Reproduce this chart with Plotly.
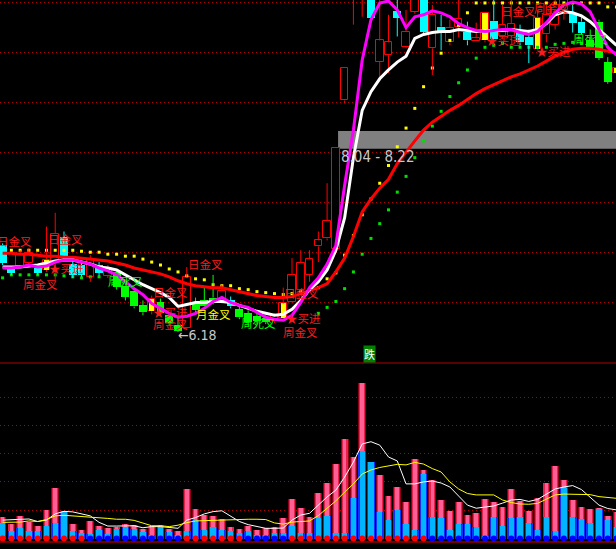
import plotly.graph_objects as go

# ---------------- data ----------------
bar_index = list(range(71))

open_price = [7.06, 6.83, 6.85, 6.88, 6.83, 6.91, 6.89, 7.14, 6.87, 6.86,
              6.74, 6.86, 6.75, 6.79, 6.65, 6.60, 6.45, 6.52, 6.48, 6.35,
              6.25, 6.22, 6.48, 6.50, 6.53, 6.50, 6.50, 6.41, 6.37, 6.34,
              6.32, 6.29, 6.32, 6.48, 6.61, 6.76, 7.05, 7.13, 7.02, 8.53,
              9.60, 9.62, 9.80, 8.92, 8.99, 9.44, 9.07, 9.43, 9.70, 9.06,
              9.28, 9.12, 9.28, 9.23, 9.13, 9.14, 9.34, 9.18, 9.18, 9.23,
              9.17, 9.05, 9.20, 9.30, 9.45, 9.42, 9.33, 9.14, 9.33, 8.92,
              8.86]
high_price = [7.08, 6.85, 7.01, 7.03, 6.86, 7.25, 7.39, 7.20, 6.91, 6.89,
              6.96, 6.89, 6.86, 6.81, 6.68, 6.63, 6.50, 6.55, 6.52, 6.38,
              6.32, 6.84, 6.53, 6.63, 6.76, 6.66, 6.54, 6.45, 6.40, 6.37,
              6.35, 6.37, 6.63, 6.93, 7.01, 7.01, 7.20, 7.69, 8.05, 8.86,
              9.74, 9.96, 9.85, 9.60, 9.40, 9.60, 9.45, 9.80, 9.75, 9.50,
              9.40, 9.35, 9.60, 9.33, 9.32, 9.42, 9.58, 9.50, 9.58, 9.30,
              9.25, 9.45, 9.50, 9.60, 9.65, 9.50, 9.40, 9.25, 9.35, 8.97,
              8.89]
low_price = [6.86, 6.76, 6.83, 6.85, 6.76, 6.79, 6.71, 6.91, 6.73, 6.74,
             6.69, 6.75, 6.73, 6.61, 6.50, 6.42, 6.35, 6.36, 6.34, 6.24,
             6.18, 6.20, 6.37, 6.42, 6.46, 6.47, 6.42, 6.31, 6.25, 6.26,
             6.26, 6.27, 6.30, 6.47, 6.58, 6.69, 6.89, 7.11, 6.99, 8.50,
             9.30, 9.38, 9.35, 8.74, 8.81, 9.18, 9.06, 9.41, 9.21, 8.79,
             9.04, 9.09, 9.17, 9.09, 9.13, 9.12, 9.14, 9.16, 9.14, 9.09,
             8.91, 9.04, 9.12, 9.25, 9.35, 9.22, 9.20, 9.04, 8.94, 8.70,
             8.79]
close_price = [6.88, 6.78, 6.97, 6.98, 6.78, 6.81, 7.18, 6.94, 6.76, 6.76,
               6.91, 6.78, 6.83, 6.64, 6.54, 6.44, 6.38, 6.39, 6.37, 6.27,
               6.19, 6.74, 6.40, 6.44, 6.48, 6.60, 6.44, 6.33, 6.28, 6.29,
               6.28, 6.34, 6.47, 6.76, 6.88, 6.92, 7.11, 7.31, 8.05, 8.86,
               9.74, 9.90, 9.37, 9.14, 9.12, 9.37, 9.23, 9.75, 9.23, 9.40,
               9.22, 9.27, 9.36, 9.14, 9.16, 9.42, 9.15, 9.30, 9.31, 9.12,
               9.09, 9.37, 9.40, 9.50, 9.60, 9.32, 9.22, 9.07, 8.96, 8.72,
               8.81]
# candle state: r = rise (hollow red), c = fall (cyan), g = weak (green), y = signal (yellow)
candle_state = list("ccrrcyrccc" "rcrggggygg" "grgggrcggg" "gryrrrrrrr"
                    "rrcrrcrrcr" "crrcrycrrc" "cyrrrccggg" "y")

ma_red = [6.98, 6.98, 6.97, 6.97, 6.96, 6.95, 6.95, 6.94, 6.94, 6.93,
          6.92, 6.91, 6.90, 6.88, 6.86, 6.83, 6.81, 6.79, 6.77, 6.74,
          6.70, 6.67, 6.65, 6.64, 6.63, 6.63, 6.61, 6.59, 6.57, 6.55,
          6.54, 6.53, 6.53, 6.54, 6.57, 6.60, 6.63, 6.67, 6.79, 6.93,
          7.15, 7.40, 7.53, 7.64, 7.73, 7.89, 8.01, 8.12, 8.23, 8.31,
          8.37, 8.43, 8.48, 8.54, 8.60, 8.65, 8.69, 8.73, 8.77, 8.80,
          8.84, 8.88, 8.93, 8.98, 9.02, 9.05, 9.06, 9.06, 9.05, 9.03,
          9.01]
ma_white = [6.84, 6.84, 6.84, 6.85, 6.86, 6.88, 6.90, 6.91, 6.91, 6.89,
            6.87, 6.84, 6.83, 6.81, 6.76, 6.71, 6.66, 6.62, 6.58, 6.53,
            6.44, 6.46, 6.48, 6.48, 6.49, 6.49, 6.48, 6.45, 6.42, 6.39,
            6.37, 6.35, 6.36, 6.41, 6.50, 6.61, 6.69, 6.81, 7.01, 7.34,
            7.95, 8.43, 8.62, 8.75, 8.84, 8.92, 8.98, 9.16, 9.20, 9.22,
            9.23, 9.23, 9.25, 9.24, 9.23, 9.24, 9.24, 9.24, 9.25, 9.24,
            9.23, 9.25, 9.31, 9.40, 9.43, 9.42, 9.39, 9.33, 9.25, 9.17,
            9.09]
ma_magenta = [6.83, 6.83, 6.84, 6.86, 6.84, 6.85, 6.89, 6.91, 6.91, 6.89,
              6.87, 6.83, 6.80, 6.76, 6.69, 6.62, 6.56, 6.47, 6.42, 6.37,
              6.33, 6.34, 6.37, 6.42, 6.49, 6.53, 6.48, 6.45, 6.43, 6.38,
              6.33, 6.31, 6.30, 6.35, 6.48, 6.63, 6.73, 6.87, 7.06, 7.67,
              8.23, 8.94, 9.35, 9.52, 9.54, 9.45, 9.27, 9.38, 9.40, 9.44,
              9.42, 9.38, 9.31, 9.27, 9.24, 9.23, 9.24, 9.25, 9.25, 9.22,
              9.20, 9.23, 9.32, 9.42, 9.50, 9.53, 9.51, 9.43, 9.25, 9.07,
              8.99]
dots_yellow = [None, 7.01, 7.01, 7.01, 7.01, 7.01, 7.01, 7.01, 7.01, 7.00,
               6.99, 6.99, 6.97, 6.97, 6.95, 6.95, 6.92, 6.89, 6.86, 6.82,
               6.79, 6.75, 6.72, 6.71, 6.66, 6.65, 6.65, 6.62, 6.61, 6.59,
               6.58, 6.57, 6.56, 6.57, 6.59, 6.61, 6.63, 6.72, 6.78, 6.96,
               7.16, 7.37, 7.53, 7.69, 7.87, 8.06, 8.25, 8.45, 8.67, 8.86,
               9.01, 9.14, 9.29, 9.42, 9.52, 9.52, 9.52, 9.52, 9.52, 9.52,
               9.52, 9.52, 9.52, 9.52, 9.52, 9.52, 9.52, 9.52, 9.52, 9.48,
               9.48]
dots_green = [6.73, 6.76, 6.76, 6.76, 6.76, 6.76, 6.76, 6.75, 6.74, 6.73,
              6.74, 6.74, None, None, None, None, None, None, None, None,
              None, None, None, None, None, None, None, None, None, None,
              None, None, None, None, None, None, 6.37, 6.43, 6.49, 6.62,
              6.79, 6.97, 7.13, 7.28, 7.42, 7.60, 7.76, 7.95, 8.12, 8.27,
              8.42, 8.57, 8.71, 8.84, 8.96, 9.07, 9.09, 9.11, 9.07, 9.07,
              9.07, 9.07, 9.07, 9.10, 9.11, 9.12, 9.11, None, None, None,
              None]

vol_total = [0.77, 0.51, 0.80, 0.59, 0.45, 1.01, 1.78, 0.98, 0.51, 0.30,
             0.62, 0.44, 0.38, 0.42, 0.51, 0.48, 0.35, 0.44, 0.48, 0.34,
             0.27, 1.75, 1.04, 0.83, 0.80, 0.68, 0.41, 0.34, 0.44, 0.30,
             0.36, 0.42, 0.72, 1.40, 1.09, 0.77, 1.60, 1.95, 2.63, 3.51,
             2.87, 5.48, 2.70, 2.24, 1.50, 1.82, 1.29, 2.81, 2.42, 2.07,
             1.36, 0.97, 1.29, 0.83, 0.91, 1.40, 1.29, 1.12, 1.75, 1.33,
             0.98, 1.44, 1.97, 2.56, 2.07, 1.36, 1.11, 1.04, 1.08, 0.80,
             0.95]
vol_main = [0.56, 0.27, 0.38, 0.27, 0.27, 0.45, 0.55, 0.95, 0.27, 0.19,
            0.17, 0.30, 0.16, 0.34, 0.42, 0.33, 0.23, 0.11, 0.42, 0.23,
            0.12, 0.25, 0.65, 0.30, 0.40, 0.30, 0.25, 0.20, 0.25, 0.12,
            0.11, 0.20, 0.18, 0.45, 0.18, 0.20, 0.71, 0.81, 0.18, 0.18,
            1.44, 3.10, 2.70, 0.95, 0.65, 1.02, 0.52, 0.30, 2.28, 0.76,
            0.73, 0.30, 0.52, 0.52, 0.41, 0.10, 0.76, 0.45, 0.73, 0.76,
            0.55, 0.31, 0.76, 0.27, 1.80, 0.76, 0.68, 0.55, 1.04, 0.65,
            0.41]
vol_ma_white = [0.65, 0.67, 0.68, 0.69, 0.60, 0.65, 0.87, 0.96, 0.94, 0.88,
                0.80, 0.57, 0.44, 0.44, 0.44, 0.45, 0.38, 0.42, 0.42, 0.40,
                0.36, 0.65, 0.74, 0.87, 0.95, 0.98, 0.80, 0.60, 0.49, 0.42,
                0.36, 0.36, 0.37, 0.65, 0.83, 0.89, 1.18, 1.47, 1.71, 2.17,
                2.70, 3.34, 3.42, 3.30, 2.88, 2.74, 1.93, 1.93, 2.00, 2.03,
                1.96, 1.82, 1.50, 1.18, 1.07, 1.10, 1.15, 1.25, 1.36, 1.38,
                1.31, 1.38, 1.57, 1.75, 1.82, 1.87, 1.73, 1.45, 1.18, 1.06,
                1.01]
vol_ma_yellow = [0.57, 0.57, 0.58, 0.62, 0.60, 0.67, 0.80, 0.82, 0.80, 0.77,
                 0.76, 0.75, 0.71, 0.68, 0.68, 0.64, 0.54, 0.45, 0.45, 0.42,
                 0.47, 0.56, 0.62, 0.63, 0.65, 0.67, 0.68, 0.68, 0.68, 0.68,
                 0.67, 0.55, 0.51, 0.58, 0.59, 0.62, 0.81, 1.06, 1.33, 1.64,
                 1.93, 2.28, 2.42, 2.51, 2.56, 2.62, 2.60, 2.69, 2.63, 2.47,
                 2.35, 2.00, 1.75, 1.59, 1.54, 1.54, 1.54, 1.36, 1.27, 1.22,
                 1.21, 1.24, 1.40, 1.54, 1.57, 1.57, 1.57, 1.55, 1.48, 1.45,
                 1.42]
# 1 = red (rising phase) flag, 0 = blue flag
trend_flag = [1] * 10 + [0] * 11 + [1] * 7 + [0] * 5 + [1] * 16 + [0] * 22

low_mark_price = 6.18
band_low, band_high = 8.04, 8.22

# ---------------- layout constants ----------------
X_RANGE = [-0.2965, 69.94]
PRICE_RANGE = [5.8757, 9.55]
VOL_RANGE = [-0.1237, 6.2014]
MAIN_DOMAIN = [1 - 362 / 549, 1.0]
VOL_DOMAIN = [1 - 542 / 549, 1 - 363 / 549]
GRID = "#b00000"
RED = "#ff1a1a"
CJK = "Noto Sans CJK SC"

price_span = PRICE_RANGE[1] - PRICE_RANGE[0]
main_grid = [PRICE_RANGE[1] - price_span * (2 + 50 * k) / 362 for k in range(7)]

fig = go.Figure()

# ---- dots ----
fig.add_trace(go.Scatter(x=bar_index, y=dots_yellow, mode="markers",
                         marker=dict(symbol="square", size=3, color="#ffff00"),
                         xaxis="x", yaxis="y", hoverinfo="skip"))
fig.add_trace(go.Scatter(x=bar_index, y=dots_green, mode="markers",
                         marker=dict(symbol="square", size=3, color="#00e000"),
                         xaxis="x", yaxis="y", hoverinfo="skip"))

# ---- candles ----
wick_color = {"r": "#ff0000", "c": "#00ffff", "g": "#00ff00", "y": "#ff0000"}
for st, col in wick_color.items():
    xs, ys = [], []
    for i in bar_index:
        if candle_state[i] != st:
            continue
        top = max(open_price[i], close_price[i])
        bot = min(open_price[i], close_price[i])
        xs += [i, i, None, i, i, None]
        ys += [high_price[i], top, None, bot, low_price[i], None]
    fig.add_trace(go.Scatter(x=xs, y=ys, mode="lines", line=dict(color=col, width=1),
                             xaxis="x", yaxis="y", hoverinfo="skip"))


def bodies(states, width, fill, edge, edge_w):
    xs = [i for i in bar_index if candle_state[i] in states]
    base = [min(open_price[i], close_price[i]) for i in xs]
    h = [max(abs(close_price[i] - open_price[i]), 0.01) for i in xs]
    return go.Bar(x=xs, y=h, base=base, width=width,
                  marker=dict(color=fill, line=dict(color=edge, width=edge_w)),
                  xaxis="x", yaxis="y", hoverinfo="skip")


fig.add_trace(bodies("ry", 0.86, "#000000", "#ff0000", 1))
fig.add_trace(bodies("c", 0.9, "#00ffff", "#00ffff", 0))
fig.add_trace(bodies("g", 0.9, "#00ff00", "#00ff00", 0))
fig.add_trace(bodies("y", 0.6, "#ffff00", "#ffff00", 0))

# ---- moving averages ----
fig.add_trace(go.Scatter(x=bar_index, y=ma_red, mode="lines", line=dict(color="#ff0000", width=3),
                         xaxis="x", yaxis="y", hoverinfo="skip"))
fig.add_trace(go.Scatter(x=bar_index, y=ma_white, mode="lines", line=dict(color="#ffffff", width=3),
                         xaxis="x", yaxis="y", hoverinfo="skip"))
fig.add_trace(go.Scatter(x=bar_index, y=ma_magenta, mode="lines", line=dict(color="#ff00ff", width=3),
                         xaxis="x", yaxis="y", hoverinfo="skip"))

# ---- volume panel ----
for w, col in [(0.88, "#8c0014"), (0.66, "#e8204c"), (0.42, "#ff5f95")]:
    fig.add_trace(go.Bar(x=bar_index, y=vol_total, width=w, marker=dict(color=col, line=dict(width=0)),
                         xaxis="x2", yaxis="y2", hoverinfo="skip"))
for w, col in [(0.88, "#1030ff"), (0.6, "#00b4ff")]:
    fig.add_trace(go.Bar(x=bar_index, y=vol_main, width=w, marker=dict(color=col, line=dict(width=0)),
                         xaxis="x2", yaxis="y2", hoverinfo="skip"))
fig.add_trace(go.Scatter(x=bar_index, y=vol_ma_white, mode="lines", line=dict(color="#ffffff", width=1),
                         xaxis="x2", yaxis="y2", hoverinfo="skip"))
fig.add_trace(go.Scatter(x=bar_index, y=vol_ma_yellow, mode="lines", line=dict(color="#ffff00", width=1),
                         xaxis="x2", yaxis="y2", hoverinfo="skip"))
fig.add_trace(go.Scatter(x=bar_index, y=[0] * len(bar_index), mode="markers",
                         marker=dict(size=6, color=["#ff0000" if f else "#0000ff" for f in trend_flag],
                                     line=dict(width=0)),
                         xaxis="x2", yaxis="y2", hoverinfo="skip"))

# ---- shapes ----
shapes = [
    dict(type="rect", xref="x", yref="y", x0=38.25, x1=X_RANGE[1], y0=band_low, y1=band_high,
         fillcolor="#808080", line=dict(width=0), layer="below"),
    dict(type="line", xref="paper", yref="y2 domain", x0=0, x1=1, y0=1, y1=1,
         line=dict(color="#b00000", width=1)),
    dict(type="line", xref="paper", yref="y2 domain", x0=0, x1=1, y0=0, y1=0,
         line=dict(color="#e00000", width=1)),
]

# ---- text labels ----
labels = [
    ("日金叉", 5.06, 7.124, RED), ("★买进", 5.18, 6.830, RED), ("周金叉", 2.21, 6.667, RED),
    ("周死叉", 11.9, 6.698, "#00ff00"), ("日金叉", 17.04, 6.586, RED), ("★买进", 17.04, 6.385, RED),
    ("周金叉", 17.04, 6.262, RED), ("日金叉", 21.03, 6.870, RED), ("月金叉", 21.94, 6.363, "#ffff00"),
    ("周死叉", 27.07, 6.272, "#00ff00"), ("日金叉", 31.97, 6.576, RED), ("★买进", 32.2, 6.322, RED),
    ("周金叉", 31.86, 6.180, RED), ("★买进", 55.0, 9.144, RED), ("日金叉", 56.7, 9.438, RED),
    ("周金叉", 60.5, 9.469, RED), ("★买进", 60.7, 9.032, RED), ("周死叉", 64.9, 9.154, "#00ff00"),
]
annotations = [dict(text=t, x=x, y=y, xref="x", yref="y", showarrow=False, xanchor="left",
                    yanchor="middle", borderpad=0, font=dict(family=CJK, size=11.5, color=c))
               for t, x, y, c in labels]
annotations.append(dict(text="日金叉", x=-0.0065, y=7.104, xref="paper", yref="y", showarrow=False,
                        xanchor="left", yanchor="middle", borderpad=0,
                        font=dict(family=CJK, size=11.5, color=RED)))
annotations.append(dict(text=f"←{low_mark_price:.2f}", x=19.89, y=6.15, xref="x", yref="y",
                        showarrow=False, xanchor="left", yanchor="middle", borderpad=0,
                        font=dict(family="Liberation Sans Narrow, DejaVu Sans Condensed", size=14,
                                  color="#c8c8c8")))
annotations.append(dict(text=f"{band_low:.2f} - {band_high:.2f}", x=38.47, y=7.956, xref="x", yref="y",
                        showarrow=False, xanchor="left", yanchor="middle", borderpad=0,
                        font=dict(family="Liberation Sans Narrow, DejaVu Sans Condensed", size=15,
                                  color="#c8c8c8")))
annotations.append(dict(text="跌", x=41.83, y=5.957, xref="x", yref="y", showarrow=False,
                        xanchor="center", yanchor="middle", bgcolor="#008000", borderpad=0,
                        font=dict(family=CJK, size=11, color="#ffffff")))

axis_common = dict(showticklabels=False, ticks="", zeroline=False, showline=False, fixedrange=True)
fig.update_layout(
    width=616, height=549, margin=dict(l=0, r=0, t=0, b=0, pad=0),
    paper_bgcolor="#000000", plot_bgcolor="#000000", showlegend=False,
    barmode="overlay", bargap=0, font=dict(family=CJK),
    xaxis=dict(domain=[0, 1], range=X_RANGE, anchor="y", showgrid=False, **axis_common),
    xaxis2=dict(domain=[0, 1], range=X_RANGE, anchor="y2", matches="x", showgrid=False, **axis_common),
    yaxis=dict(domain=MAIN_DOMAIN, range=PRICE_RANGE, anchor="x", tickmode="array", tickvals=main_grid,
               showgrid=True, gridcolor=GRID, gridwidth=1, griddash="1px,3px", **axis_common),
    yaxis2=dict(domain=VOL_DOMAIN, range=VOL_RANGE, anchor="x2", tickmode="array", tickvals=[1, 2, 3, 4, 5],
                showgrid=True, gridcolor=GRID, gridwidth=1, griddash="1px,3px", **axis_common),
    shapes=shapes, annotations=annotations,
)

fig.write_html("out.html", config={"displayModeBar": False},
               post_script="document.body.style.margin='0';document.body.style.background='#000';")
